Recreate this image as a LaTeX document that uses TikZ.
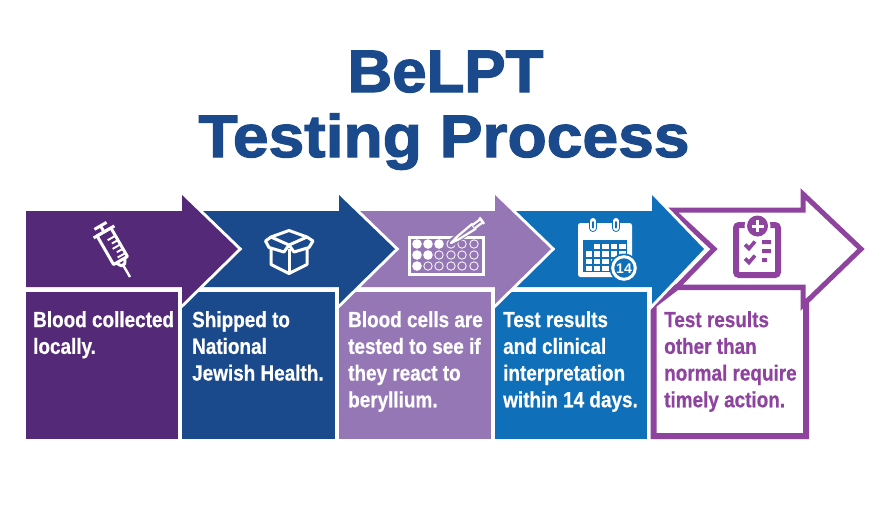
\documentclass[tikz,border=0pt]{standalone}
\usepackage{fontspec}
\setmainfont{Liberation Sans}[BoldFeatures={FakeStretch=0.86,FakeBold=0.6}]
\newfontfamily\titlef{Liberation Sans}
\newfontfamily\titleg{Liberation Sans}[BoldFeatures={FakeStretch=1.07,FakeBold=2}]
\newfontfamily\titleh{Liberation Sans}[BoldFeatures={FakeStretch=1.03,FakeBold=2}]
\definecolor{cA}{HTML}{542A78}
\definecolor{cB}{HTML}{1A4A8C}
\definecolor{cC}{HTML}{9677B5}
\definecolor{cD}{HTML}{0F6FB8}
\definecolor{cE}{HTML}{8E449F}
\tikzset{
  stage/.style={preaction={draw=white,line width=6pt,miter limit=10}},
  bodytext/.style={anchor=north west,inner sep=0pt,align=left,font=\fontsize{22}{26.7}\selectfont\bfseries,text=white},
  titletext/.style={inner sep=0pt,text=cB},
  ico/.style={draw=white,line width=3pt,line join=round},
}
\begin{document}
\begin{tikzpicture}[x=1pt,y=-1pt]
\useasboundingbox (0,0) rectangle (888,507);
\fill[white] (0,0) rectangle (888,507);
\node[titletext,anchor=base,font=\titleh\bfseries\fontsize{60}{60}\selectfont] (t1) at (445.5,92) {BeLPT};
\node[titletext,anchor=base,font=\titleg\bfseries\fontsize{60}{60}\selectfont] (t2) at (444,157) {Testing Process};

% stage 5
\draw[cE,line width=6pt,fill=white,miter limit=10] (653.5,305) -- (677,287) -- (806,287) -- (806,436) -- (653.5,436) -- cycle;
\draw[cE,line width=5pt,fill=white,miter limit=10] (672,210) -- (803,210) -- (803,194) -- (861,249) -- (803,305) -- (803,287) -- (677,287) -- (714,249) -- cycle;
% stage 4
\fill[cD] (495,292) rectangle (647,438.5);
\path[stage,fill=cD] (500,211) -- (652,211) -- (652,195) -- (704,249) -- (652,304) -- (652,287) -- (500,287) -- cycle;
% stage 3
\fill[cC] (338.5,292) rectangle (490.5,438.5);
\path[stage,fill=cC] (340,211) -- (495,211) -- (495,195) -- (551,249) -- (495,304) -- (495,287) -- (340,287) -- cycle;
% stage 2
\fill[cB] (182,292) rectangle (334.5,438.5);
\path[stage,fill=cB] (190,211) -- (339,211) -- (339,195) -- (395,249) -- (339,304) -- (339,287) -- (190,287) -- cycle;
% stage 1
\fill[cA] (26,292) rectangle (178,438.5);
\path[stage,fill=cA] (26,211) -- (182,211) -- (182,195) -- (238,249) -- (182,304) -- (182,287) -- (26,287) -- cycle;

% text
\node[bodytext] (b1) at (33,311) {Blood collected\\locally.};
\node[bodytext] (b2) at (192,311) {Shipped to\\National\\Jewish Health.};
\node[bodytext] (b3) at (348,311) {Blood cells are\\tested to see if\\they react to\\beryllium.};
\node[bodytext] (b4) at (503,311) {Test results\\and clinical\\interpretation\\within 14 days.};
\node[bodytext,text=cE] (b5) at (664,311) {Test results\\other than\\normal require\\timely action.};

% syringe
\begin{scope}[shift={(100,225)},rotate=-60]
  \draw[ico] (1,-7) -- (1,7);
  \draw[ico] (1,0) -- (8,0);
  \draw[ico] (8,-12) -- (8,12);
  \draw[ico] (8,-8) rectangle (41,8);
  \draw[ico] (41,-5) -- (46,-2) -- (46,2) -- (41,5);
  \draw[white,line width=2.4pt] (46,0) -- (60,0);
  \draw[white,line width=1.9pt] (17,-7) -- (17,1) (22,-7) -- (22,-1) (27,-7) -- (27,1) (32,-7) -- (32,-1) (37,-7) -- (37,1);
\end{scope}

% box
\begin{scope}
  \draw[ico] (271,237) -- (289,230.5) -- (307,237) -- (289,245) -- cycle;
  \draw[ico] (271,237) -- (265.5,241) -- (269,247.5) -- (284,252) -- (289,245) -- (294,252) -- (309,247.5) -- (313,241) -- (307,237);
  \draw[ico] (271,247) -- (271,264.5) -- (289,273.5) -- (307,264.5) -- (307,247);
  \draw[ico] (289,249) -- (289,273);
\end{scope}

% plate
\draw[white,line width=3pt] (409,237) rectangle (483,274);
\foreach \c/\r in {417/244,428/244,439/244,417/255,428/255,417/266}
  \fill[white] (\c,\r) circle (4.8);
\foreach \c/\r in {451/244,462/244,474/244,439/255,451/255,462/255,474/255,428/266,439/266,451/266,462/266,474/266}
  \draw[white,line width=.8pt] (\c,\r) circle (4.2);
\begin{scope}[shift={(451,243)},rotate=36]
  \draw[cC,line width=8pt] (0,0) -- (30,0);
  \draw[white,line width=2.2pt,fill=cC,line join=round] (0,0) -- (8,-1.5) -- (28,-3) -- (28,3) -- (8,1.5) -- cycle;
  \draw[white,line width=2.2pt,fill=cC,line join=round] (28,-2) -- (38,-2) -- (38,2) -- (28,2);
  \draw[white,line width=2.4pt] (38,-4) -- (38,4);
\end{scope}

% calendar
\fill[white,rounded corners=2.5pt] (578,223) rectangle (632,277);
\fill[cD] (583,240) rectangle (627,272);
\foreach \x in {593,616} {
  \draw[cD,line width=8pt,line cap=round] (\x,221) -- (\x,228);
  \draw[white,line width=6pt,line cap=round] (\x,221) -- (\x,228);
  \draw[cD,line width=2pt,line cap=round] (\x,222) -- (\x,227.5);
}
\foreach \c/\r in {1/0,2/0,3/0,4/0,0/1,1/1,2/1,3/1,4/1,0/2,1/2,2/2,3/2,0/3,1/3,2/3}
  \fill[white] ({585.5+\c*8.4},{244+\r*7.3}) rectangle ++(6.4,5.4);
\fill[cD] (624,268) circle (14.5);
\draw[white,line width=3pt] (624,268) circle (11.3);
\node[inner sep=0pt,text=white,font=\titlef\bfseries\fontsize{14}{14}\selectfont] (d14) at (624,268.5) {14};

% clipboard
\draw[cE,line width=6pt,rounded corners=3pt] (736,225) rectangle (778,275);
\fill[white] (757.5,226) circle (13);
\fill[cE] (757.5,226) circle (10.5);
\draw[white,line width=3pt] (751.5,226) -- (763.5,226) (757.5,220) -- (757.5,232);
\draw[cE,line width=3.6pt] (745,244.5) -- (749,248.5) -- (755,241.5);
\draw[cE,line width=3.6pt] (745,258.5) -- (749,262.5) -- (755,255.5);
\fill[cE] (762,240) rectangle (771,244) (762,249) rectangle (771,253) (762,258) rectangle (767,262);
\end{tikzpicture}
\end{document}
